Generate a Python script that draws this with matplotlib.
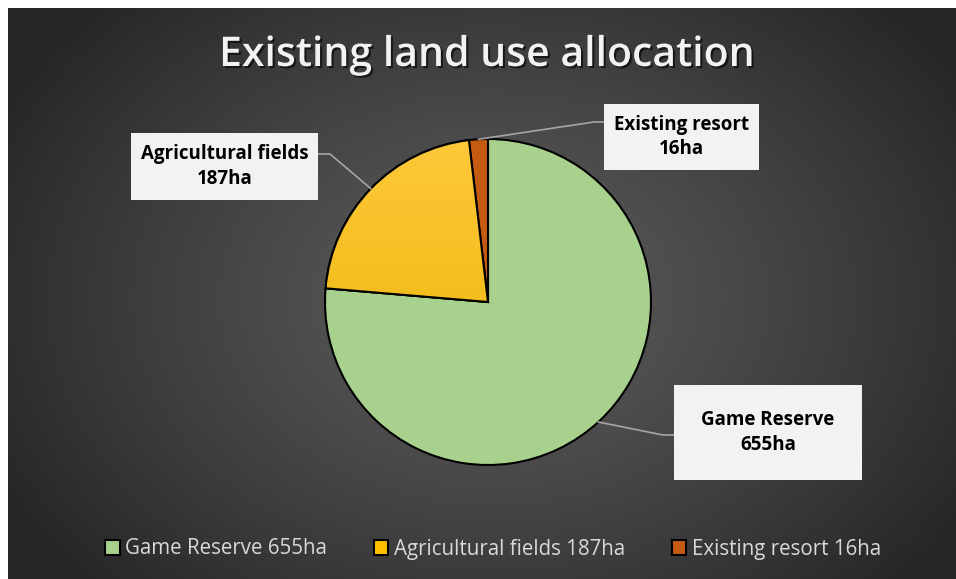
import numpy as np
import matplotlib
matplotlib.use("Agg")
import matplotlib.pyplot as plt
import matplotlib.patheffects as pe
from matplotlib.lines import Line2D
from matplotlib.patches import Rectangle, Wedge

# data
labels = ["Game Reserve", "Agricultural fields", "Existing resort"]
areas = [655, 187, 16]
colors = ["#a9d18e", "#ffc000", "#c55a11"]
legend_labels = [f"{l} {a}ha" for l, a in zip(labels, areas)]
box_labels = [f"{l}\n{a}ha" for l, a in zip(labels, areas)]

W, H = 956, 579
fig = plt.figure(figsize=(W / 100, H / 100), dpi=100)
fig.patch.set_facecolor("white")

# dark radial background
bg = fig.add_axes([8 / W, 0, (W - 8) / W, (H - 8) / H])
bg.set_axis_off()
yy, xx = np.mgrid[0:H - 8, 0:W - 8]
cx, cy = 485, 290
d = np.sqrt(((xx - cx) / 560.0) ** 2 + ((yy - cy) / 420.0) ** 2)
d = np.clip(d, 0, 1)
light, dark = 0x5c, 0x26
g = (light + (dark - light) * d ** 1.2) / 255.0
bg.imshow(np.dstack([g, g, g]), aspect="auto", interpolation="bilinear")

# title
fig.text(487 / W, 1 - 55 / H, "Existing land use allocation", ha="center", va="center",
         fontsize=29.5, fontweight="semibold", color="#f2f2f2", family="Open Sans",
         path_effects=[pe.SimplePatchShadow(offset=(1.5, -1.5), shadow_rgbFace="black", alpha=0.6),
                       pe.Normal()])

# pie
pcx, pcy, r = 488, H - 302, 163
ax = fig.add_axes([(pcx - r) / W, (pcy - r) / H, 2 * r / W, 2 * r / H])
wedges, _ = ax.pie(areas, colors=colors, startangle=90, counterclock=False,
                   wedgeprops=dict(edgecolor="black", linewidth=1.5))
ax.set_xlim(-1, 1)
ax.set_ylim(-1, 1)
ax.set_axis_off()

# gradient on the agricultural wedge
grad = np.linspace(0, 1, 256)[:, None] * np.ones((1, 10))
top = np.array([0xff, 0xc8, 0x3a]) / 255.0
bot = np.array([0xe8, 0xb2, 0x00]) / 255.0
img = top[None, None, :] * (1 - grad[..., None]) + bot[None, None, :] * grad[..., None]
im = ax.imshow(img, extent=[-1, 1, -1, 1], aspect="auto", zorder=1.5, origin="upper")
im.set_clip_path(wedges[1])
wedges[1].set_zorder(1)
ax.add_patch(Wedge((0, 0), 1, wedges[1].theta1, wedges[1].theta2,
                   facecolor="none", edgecolor="black", linewidth=1.5, zorder=2))

# data label boxes (left, top, right, bottom in pixels from top-left) and leader lines
boxes = [(674, 385, 862, 480), (131, 133, 318, 200), (604, 104, 759, 170)]
elbows = [[(663, 435), (674, 435)], [(330, 154), (318, 154)], [(594, 122), (604, 122)]]
for w, lab, (x0, y0, x1, y1), elb in zip(wedges, box_labels, boxes, elbows):
    mid = np.deg2rad((w.theta1 + w.theta2) / 2)
    ax_x = pcx + r * np.cos(mid)
    ax_y = H - (pcy + r * np.sin(mid))
    xs = [ax_x] + [p[0] for p in elb]
    ys = [ax_y] + [p[1] for p in elb]
    fig.add_artist(Line2D([x / W for x in xs], [1 - y / H for y in ys], color="#a6a6a6",
                          linewidth=1.2, transform=fig.transFigure, zorder=3))
    fig.add_artist(Rectangle((x0 / W, 1 - y1 / H), (x1 - x0) / W, (y1 - y0) / H,
                             facecolor="#f2f2f2", edgecolor="none",
                             transform=fig.transFigure, zorder=3.5))
    fig.text((x0 + x1) / 2 / W, 1 - (y0 + y1) / 2 / H, lab, ha="center", va="center",
             fontsize=13.5, fontweight="bold", color="black", family="Open Sans",
             linespacing=1.3, zorder=4)

# legend
leg = fig.legend(wedges, legend_labels, loc="center", bbox_to_anchor=(493 / W, 1 - 549 / H),
                 ncol=3, frameon=False, handlelength=0.7, handleheight=0.7,
                 handletextpad=0.25, columnspacing=2.3,
                 prop=dict(family="Open Sans", size=14.8))
for t in leg.get_texts():
    t.set_color("#d9d9d9")

fig.savefig("out.png", dpi=100, facecolor=fig.get_facecolor())
